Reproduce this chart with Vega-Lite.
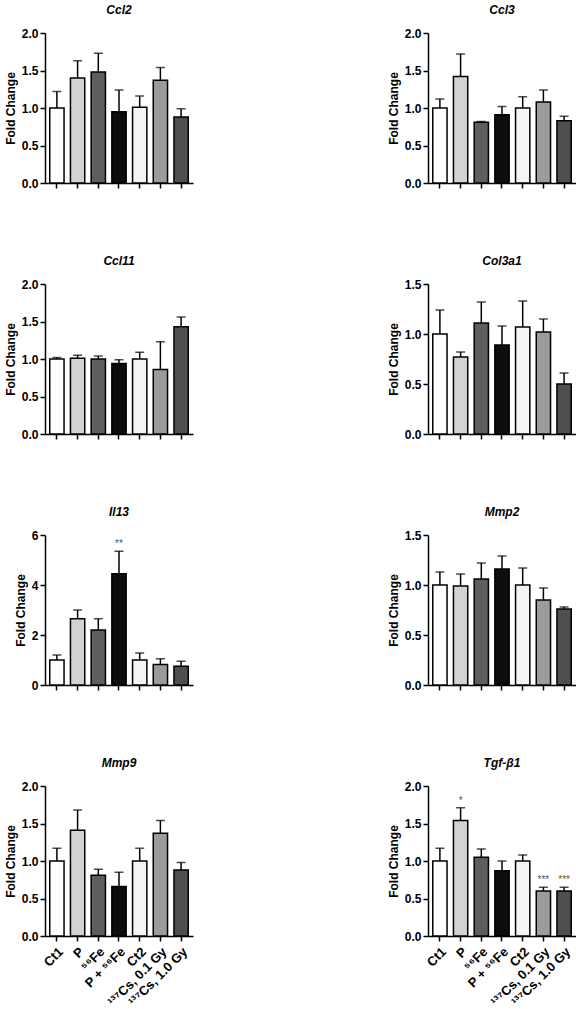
{
  "$schema": "https://vega.github.io/schema/vega-lite/v6.json",
  "padding": {"left": 4, "top": 4, "right": 2, "bottom": 2},
  "background": "white",
  "datasets": {
    "expr": [
      {"gene": "Ccl2", "group": "Ct1", "mean": 1.0, "upper": 1.22},
      {"gene": "Ccl2", "group": "P", "mean": 1.40, "upper": 1.63},
      {"gene": "Ccl2", "group": "⁵⁶Fe", "mean": 1.48, "upper": 1.73},
      {"gene": "Ccl2", "group": "P + ⁵⁶Fe", "mean": 0.95, "upper": 1.24},
      {"gene": "Ccl2", "group": "Ct2", "mean": 1.01, "upper": 1.16},
      {"gene": "Ccl2", "group": "¹³⁷Cs, 0.1 Gy", "mean": 1.37, "upper": 1.54},
      {"gene": "Ccl2", "group": "¹³⁷Cs, 1.0 Gy", "mean": 0.88, "upper": 0.99},
      {"gene": "Ccl3", "group": "Ct1", "mean": 1.0, "upper": 1.12},
      {"gene": "Ccl3", "group": "P", "mean": 1.42, "upper": 1.72},
      {"gene": "Ccl3", "group": "⁵⁶Fe", "mean": 0.81, "upper": 0.82},
      {"gene": "Ccl3", "group": "P + ⁵⁶Fe", "mean": 0.91, "upper": 1.02},
      {"gene": "Ccl3", "group": "Ct2", "mean": 1.0, "upper": 1.15},
      {"gene": "Ccl3", "group": "¹³⁷Cs, 0.1 Gy", "mean": 1.08, "upper": 1.24},
      {"gene": "Ccl3", "group": "¹³⁷Cs, 1.0 Gy", "mean": 0.83, "upper": 0.89},
      {"gene": "Ccl11", "group": "Ct1", "mean": 1.0, "upper": 1.02},
      {"gene": "Ccl11", "group": "P", "mean": 1.01, "upper": 1.05},
      {"gene": "Ccl11", "group": "⁵⁶Fe", "mean": 1.0, "upper": 1.04},
      {"gene": "Ccl11", "group": "P + ⁵⁶Fe", "mean": 0.94, "upper": 0.99},
      {"gene": "Ccl11", "group": "Ct2", "mean": 1.0, "upper": 1.09},
      {"gene": "Ccl11", "group": "¹³⁷Cs, 0.1 Gy", "mean": 0.86, "upper": 1.23},
      {"gene": "Ccl11", "group": "¹³⁷Cs, 1.0 Gy", "mean": 1.43, "upper": 1.56},
      {"gene": "Col3a1", "group": "Ct1", "mean": 1.0, "upper": 1.24},
      {"gene": "Col3a1", "group": "P", "mean": 0.77, "upper": 0.82},
      {"gene": "Col3a1", "group": "⁵⁶Fe", "mean": 1.11, "upper": 1.32},
      {"gene": "Col3a1", "group": "P + ⁵⁶Fe", "mean": 0.89, "upper": 1.08},
      {"gene": "Col3a1", "group": "Ct2", "mean": 1.07, "upper": 1.33},
      {"gene": "Col3a1", "group": "¹³⁷Cs, 0.1 Gy", "mean": 1.02, "upper": 1.15},
      {"gene": "Col3a1", "group": "¹³⁷Cs, 1.0 Gy", "mean": 0.50, "upper": 0.61},
      {"gene": "Il13", "group": "Ct1", "mean": 1.0, "upper": 1.2},
      {"gene": "Il13", "group": "P", "mean": 2.65, "upper": 3.0},
      {"gene": "Il13", "group": "⁵⁶Fe", "mean": 2.2, "upper": 2.65},
      {"gene": "Il13", "group": "P + ⁵⁶Fe", "mean": 4.45, "upper": 5.35, "sig": "**"},
      {"gene": "Il13", "group": "Ct2", "mean": 1.0, "upper": 1.28},
      {"gene": "Il13", "group": "¹³⁷Cs, 0.1 Gy", "mean": 0.82, "upper": 1.05},
      {"gene": "Il13", "group": "¹³⁷Cs, 1.0 Gy", "mean": 0.75, "upper": 0.95},
      {"gene": "Mmp2", "group": "Ct1", "mean": 1.0, "upper": 1.13},
      {"gene": "Mmp2", "group": "P", "mean": 0.99, "upper": 1.11},
      {"gene": "Mmp2", "group": "⁵⁶Fe", "mean": 1.06, "upper": 1.22},
      {"gene": "Mmp2", "group": "P + ⁵⁶Fe", "mean": 1.16, "upper": 1.29},
      {"gene": "Mmp2", "group": "Ct2", "mean": 1.0, "upper": 1.17},
      {"gene": "Mmp2", "group": "¹³⁷Cs, 0.1 Gy", "mean": 0.85, "upper": 0.97},
      {"gene": "Mmp2", "group": "¹³⁷Cs, 1.0 Gy", "mean": 0.76, "upper": 0.78},
      {"gene": "Mmp9", "group": "Ct1", "mean": 1.0, "upper": 1.17},
      {"gene": "Mmp9", "group": "P", "mean": 1.41, "upper": 1.68},
      {"gene": "Mmp9", "group": "⁵⁶Fe", "mean": 0.81, "upper": 0.89},
      {"gene": "Mmp9", "group": "P + ⁵⁶Fe", "mean": 0.66, "upper": 0.85},
      {"gene": "Mmp9", "group": "Ct2", "mean": 1.0, "upper": 1.17},
      {"gene": "Mmp9", "group": "¹³⁷Cs, 0.1 Gy", "mean": 1.37, "upper": 1.54},
      {"gene": "Mmp9", "group": "¹³⁷Cs, 1.0 Gy", "mean": 0.88, "upper": 0.98},
      {"gene": "Tgf-β1", "group": "Ct1", "mean": 1.0, "upper": 1.17},
      {"gene": "Tgf-β1", "group": "P", "mean": 1.54, "upper": 1.71, "sig": "*"},
      {"gene": "Tgf-β1", "group": "⁵⁶Fe", "mean": 1.05, "upper": 1.16},
      {"gene": "Tgf-β1", "group": "P + ⁵⁶Fe", "mean": 0.87, "upper": 1.0},
      {"gene": "Tgf-β1", "group": "Ct2", "mean": 1.0, "upper": 1.08},
      {"gene": "Tgf-β1", "group": "¹³⁷Cs, 0.1 Gy", "mean": 0.60, "upper": 0.65, "sig": "***"},
      {"gene": "Tgf-β1", "group": "¹³⁷Cs, 1.0 Gy", "mean": 0.60, "upper": 0.65, "sig": "***"}
    ]
  },
  "data": {"name": "expr"},
  "columns": 2,
  "spacing": {"row": 66, "column": 194},
  "concat": [
    {
      "title": "Ccl2", "width": 148, "height": 150,
      "transform": [{"filter": "datum.gene === 'Ccl2'"}],
      "encoding": {"x": {"field": "group", "type": "nominal", "sort": ["Ct1", "P", "⁵⁶Fe", "P + ⁵⁶Fe", "Ct2", "¹³⁷Cs, 0.1 Gy", "¹³⁷Cs, 1.0 Gy"], "scale": {"paddingInner": 0.31, "paddingOuter": 0.23}, "axis": {"labels": false, "title": null}},
        "y": {"field": "mean", "type": "quantitative", "scale": {"domain": [0, 2]}, "axis": {"title": "Fold Change", "values": [0, 0.5, 1, 1.5, 2], "format": ".1f", "labelOverlap": false}}},
      "layer": [
        {"mark": {"type": "bar"}, "encoding": {"fill": {"field": "group", "type": "nominal", "scale": {"domain": ["Ct1", "P", "⁵⁶Fe", "P + ⁵⁶Fe", "Ct2", "¹³⁷Cs, 0.1 Gy", "¹³⁷Cs, 1.0 Gy"], "range": ["#ffffff", "#d2d2d2", "#5e5e5e", "#0d0d0d", "#f4f4f4", "#9b9b9b", "#4f4f4f"]}, "legend": null}}},
        {"mark": {"type": "rule", "strokeWidth": 1.5, "color": "black"}, "encoding": {"y2": {"field": "upper"}}},
        {"mark": {"type": "tick", "size": 9, "thickness": 1.5, "color": "black"}, "encoding": {"y": {"field": "upper", "type": "quantitative", "axis": {"title": "Fold Change", "values": [0, 0.5, 1, 1.5, 2], "format": ".1f", "labelOverlap": false}}}}
      ]
    },
    {
      "title": "Ccl3", "width": 148, "height": 150,
      "transform": [{"filter": "datum.gene === 'Ccl3'"}],
      "encoding": {"x": {"field": "group", "type": "nominal", "sort": ["Ct1", "P", "⁵⁶Fe", "P + ⁵⁶Fe", "Ct2", "¹³⁷Cs, 0.1 Gy", "¹³⁷Cs, 1.0 Gy"], "scale": {"paddingInner": 0.31, "paddingOuter": 0.23}, "axis": {"labels": false, "title": null}},
        "y": {"field": "mean", "type": "quantitative", "scale": {"domain": [0, 2]}, "axis": {"title": "Fold Change", "values": [0, 0.5, 1, 1.5, 2], "format": ".1f", "labelOverlap": false}}},
      "layer": [
        {"mark": {"type": "bar"}, "encoding": {"fill": {"field": "group", "type": "nominal", "scale": {"domain": ["Ct1", "P", "⁵⁶Fe", "P + ⁵⁶Fe", "Ct2", "¹³⁷Cs, 0.1 Gy", "¹³⁷Cs, 1.0 Gy"], "range": ["#ffffff", "#d2d2d2", "#5e5e5e", "#0d0d0d", "#f4f4f4", "#9b9b9b", "#4f4f4f"]}, "legend": null}}},
        {"mark": {"type": "rule", "strokeWidth": 1.5, "color": "black"}, "encoding": {"y2": {"field": "upper"}}},
        {"mark": {"type": "tick", "size": 9, "thickness": 1.5, "color": "black"}, "encoding": {"y": {"field": "upper", "type": "quantitative", "axis": {"title": "Fold Change", "values": [0, 0.5, 1, 1.5, 2], "format": ".1f", "labelOverlap": false}}}}
      ]
    },
    {
      "title": "Ccl11", "width": 148, "height": 150,
      "transform": [{"filter": "datum.gene === 'Ccl11'"}],
      "encoding": {"x": {"field": "group", "type": "nominal", "sort": ["Ct1", "P", "⁵⁶Fe", "P + ⁵⁶Fe", "Ct2", "¹³⁷Cs, 0.1 Gy", "¹³⁷Cs, 1.0 Gy"], "scale": {"paddingInner": 0.31, "paddingOuter": 0.23}, "axis": {"labels": false, "title": null}},
        "y": {"field": "mean", "type": "quantitative", "scale": {"domain": [0, 2]}, "axis": {"title": "Fold Change", "values": [0, 0.5, 1, 1.5, 2], "format": ".1f", "labelOverlap": false}}},
      "layer": [
        {"mark": {"type": "bar"}, "encoding": {"fill": {"field": "group", "type": "nominal", "scale": {"domain": ["Ct1", "P", "⁵⁶Fe", "P + ⁵⁶Fe", "Ct2", "¹³⁷Cs, 0.1 Gy", "¹³⁷Cs, 1.0 Gy"], "range": ["#ffffff", "#d2d2d2", "#5e5e5e", "#0d0d0d", "#f4f4f4", "#9b9b9b", "#4f4f4f"]}, "legend": null}}},
        {"mark": {"type": "rule", "strokeWidth": 1.5, "color": "black"}, "encoding": {"y2": {"field": "upper"}}},
        {"mark": {"type": "tick", "size": 9, "thickness": 1.5, "color": "black"}, "encoding": {"y": {"field": "upper", "type": "quantitative", "axis": {"title": "Fold Change", "values": [0, 0.5, 1, 1.5, 2], "format": ".1f", "labelOverlap": false}}}}
      ]
    },
    {
      "title": "Col3a1", "width": 148, "height": 150,
      "transform": [{"filter": "datum.gene === 'Col3a1'"}],
      "encoding": {"x": {"field": "group", "type": "nominal", "sort": ["Ct1", "P", "⁵⁶Fe", "P + ⁵⁶Fe", "Ct2", "¹³⁷Cs, 0.1 Gy", "¹³⁷Cs, 1.0 Gy"], "scale": {"paddingInner": 0.31, "paddingOuter": 0.23}, "axis": {"labels": false, "title": null}},
        "y": {"field": "mean", "type": "quantitative", "scale": {"domain": [0, 1.5]}, "axis": {"title": "Fold Change", "values": [0, 0.5, 1, 1.5], "format": ".1f", "labelOverlap": false}}},
      "layer": [
        {"mark": {"type": "bar"}, "encoding": {"fill": {"field": "group", "type": "nominal", "scale": {"domain": ["Ct1", "P", "⁵⁶Fe", "P + ⁵⁶Fe", "Ct2", "¹³⁷Cs, 0.1 Gy", "¹³⁷Cs, 1.0 Gy"], "range": ["#ffffff", "#d2d2d2", "#5e5e5e", "#0d0d0d", "#f4f4f4", "#9b9b9b", "#4f4f4f"]}, "legend": null}}},
        {"mark": {"type": "rule", "strokeWidth": 1.5, "color": "black"}, "encoding": {"y2": {"field": "upper"}}},
        {"mark": {"type": "tick", "size": 9, "thickness": 1.5, "color": "black"}, "encoding": {"y": {"field": "upper", "type": "quantitative", "axis": {"title": "Fold Change", "values": [0, 0.5, 1, 1.5], "format": ".1f", "labelOverlap": false}}}}
      ]
    },
    {
      "title": "Il13", "width": 148, "height": 150,
      "transform": [{"filter": "datum.gene === 'Il13'"}],
      "encoding": {"x": {"field": "group", "type": "nominal", "sort": ["Ct1", "P", "⁵⁶Fe", "P + ⁵⁶Fe", "Ct2", "¹³⁷Cs, 0.1 Gy", "¹³⁷Cs, 1.0 Gy"], "scale": {"paddingInner": 0.31, "paddingOuter": 0.23}, "axis": {"labels": false, "title": null}},
        "y": {"field": "mean", "type": "quantitative", "scale": {"domain": [0, 6]}, "axis": {"title": "Fold Change", "values": [0, 2, 4, 6], "format": "d", "labelOverlap": false}}},
      "layer": [
        {"mark": {"type": "bar"}, "encoding": {"fill": {"field": "group", "type": "nominal", "scale": {"domain": ["Ct1", "P", "⁵⁶Fe", "P + ⁵⁶Fe", "Ct2", "¹³⁷Cs, 0.1 Gy", "¹³⁷Cs, 1.0 Gy"], "range": ["#ffffff", "#d2d2d2", "#5e5e5e", "#0d0d0d", "#f4f4f4", "#9b9b9b", "#4f4f4f"]}, "legend": null}}},
        {"mark": {"type": "rule", "strokeWidth": 1.5, "color": "black"}, "encoding": {"y2": {"field": "upper"}}},
        {"mark": {"type": "tick", "size": 9, "thickness": 1.5, "color": "black"}, "encoding": {"y": {"field": "upper", "type": "quantitative", "axis": {"title": "Fold Change", "values": [0, 2, 4, 6], "format": "d", "labelOverlap": false}}}},
        {"transform": [{"filter": "datum.sig"}], "mark": {"type": "text", "baseline": "bottom", "dy": -2, "fontSize": 10, "color": "#555555"}, "encoding": {"y": {"field": "upper", "type": "quantitative", "axis": {"title": "Fold Change", "values": [0, 2, 4, 6], "format": "d", "labelOverlap": false}}, "text": {"field": "sig"}}}
      ]
    },
    {
      "title": "Mmp2", "width": 148, "height": 150,
      "transform": [{"filter": "datum.gene === 'Mmp2'"}],
      "encoding": {"x": {"field": "group", "type": "nominal", "sort": ["Ct1", "P", "⁵⁶Fe", "P + ⁵⁶Fe", "Ct2", "¹³⁷Cs, 0.1 Gy", "¹³⁷Cs, 1.0 Gy"], "scale": {"paddingInner": 0.31, "paddingOuter": 0.23}, "axis": {"labels": false, "title": null}},
        "y": {"field": "mean", "type": "quantitative", "scale": {"domain": [0, 1.5]}, "axis": {"title": "Fold Change", "values": [0, 0.5, 1, 1.5], "format": ".1f", "labelOverlap": false}}},
      "layer": [
        {"mark": {"type": "bar"}, "encoding": {"fill": {"field": "group", "type": "nominal", "scale": {"domain": ["Ct1", "P", "⁵⁶Fe", "P + ⁵⁶Fe", "Ct2", "¹³⁷Cs, 0.1 Gy", "¹³⁷Cs, 1.0 Gy"], "range": ["#ffffff", "#d2d2d2", "#5e5e5e", "#0d0d0d", "#f4f4f4", "#9b9b9b", "#4f4f4f"]}, "legend": null}}},
        {"mark": {"type": "rule", "strokeWidth": 1.5, "color": "black"}, "encoding": {"y2": {"field": "upper"}}},
        {"mark": {"type": "tick", "size": 9, "thickness": 1.5, "color": "black"}, "encoding": {"y": {"field": "upper", "type": "quantitative", "axis": {"title": "Fold Change", "values": [0, 0.5, 1, 1.5], "format": ".1f", "labelOverlap": false}}}}
      ]
    },
    {
      "title": "Mmp9", "width": 148, "height": 150,
      "transform": [{"filter": "datum.gene === 'Mmp9'"}],
      "encoding": {"x": {"field": "group", "type": "nominal", "sort": ["Ct1", "P", "⁵⁶Fe", "P + ⁵⁶Fe", "Ct2", "¹³⁷Cs, 0.1 Gy", "¹³⁷Cs, 1.0 Gy"], "scale": {"paddingInner": 0.31, "paddingOuter": 0.23}, "axis": {"title": null, "labelAngle": -45, "labelPadding": 4, "labelFontSize": 13}},
        "y": {"field": "mean", "type": "quantitative", "scale": {"domain": [0, 2]}, "axis": {"title": "Fold Change", "values": [0, 0.5, 1, 1.5, 2], "format": ".1f", "labelOverlap": false}}},
      "layer": [
        {"mark": {"type": "bar"}, "encoding": {"fill": {"field": "group", "type": "nominal", "scale": {"domain": ["Ct1", "P", "⁵⁶Fe", "P + ⁵⁶Fe", "Ct2", "¹³⁷Cs, 0.1 Gy", "¹³⁷Cs, 1.0 Gy"], "range": ["#ffffff", "#d2d2d2", "#5e5e5e", "#0d0d0d", "#f4f4f4", "#9b9b9b", "#4f4f4f"]}, "legend": null}}},
        {"mark": {"type": "rule", "strokeWidth": 1.5, "color": "black"}, "encoding": {"y2": {"field": "upper"}}},
        {"mark": {"type": "tick", "size": 9, "thickness": 1.5, "color": "black"}, "encoding": {"y": {"field": "upper", "type": "quantitative", "axis": {"title": "Fold Change", "values": [0, 0.5, 1, 1.5, 2], "format": ".1f", "labelOverlap": false}}}}
      ]
    },
    {
      "title": "Tgf-β1", "width": 148, "height": 150,
      "transform": [{"filter": "datum.gene === 'Tgf-β1'"}],
      "encoding": {"x": {"field": "group", "type": "nominal", "sort": ["Ct1", "P", "⁵⁶Fe", "P + ⁵⁶Fe", "Ct2", "¹³⁷Cs, 0.1 Gy", "¹³⁷Cs, 1.0 Gy"], "scale": {"paddingInner": 0.31, "paddingOuter": 0.23}, "axis": {"title": null, "labelAngle": -45, "labelPadding": 4, "labelFontSize": 13}},
        "y": {"field": "mean", "type": "quantitative", "scale": {"domain": [0, 2]}, "axis": {"title": "Fold Change", "values": [0, 0.5, 1, 1.5, 2], "format": ".1f", "labelOverlap": false}}},
      "layer": [
        {"mark": {"type": "bar"}, "encoding": {"fill": {"field": "group", "type": "nominal", "scale": {"domain": ["Ct1", "P", "⁵⁶Fe", "P + ⁵⁶Fe", "Ct2", "¹³⁷Cs, 0.1 Gy", "¹³⁷Cs, 1.0 Gy"], "range": ["#ffffff", "#d2d2d2", "#5e5e5e", "#0d0d0d", "#f4f4f4", "#9b9b9b", "#4f4f4f"]}, "legend": null}}},
        {"mark": {"type": "rule", "strokeWidth": 1.5, "color": "black"}, "encoding": {"y2": {"field": "upper"}}},
        {"mark": {"type": "tick", "size": 9, "thickness": 1.5, "color": "black"}, "encoding": {"y": {"field": "upper", "type": "quantitative", "axis": {"title": "Fold Change", "values": [0, 0.5, 1, 1.5, 2], "format": ".1f", "labelOverlap": false}}}},
        {"transform": [{"filter": "datum.sig"}], "mark": {"type": "text", "baseline": "bottom", "dy": -2, "fontSize": 10, "color": "#555555"}, "encoding": {"y": {"field": "upper", "type": "quantitative", "axis": {"title": "Fold Change", "values": [0, 0.5, 1, 1.5, 2], "format": ".1f", "labelOverlap": false}}, "text": {"field": "sig"}}}
      ]
    }
  ],
  "config": {
    "font": "Liberation Sans",
    "view": {"stroke": null},
    "axis": {"domainColor": "black", "domainWidth": 1.5, "tickColor": "black", "tickWidth": 1.5, "tickSize": 5, "labelFont": "Liberation Sans", "labelFontWeight": "bold", "labelFontSize": 12, "labelColor": "black", "labelPadding": 2, "labelOverlap": false, "titleFont": "Liberation Sans", "titleFontSize": 12, "titleFontWeight": "bold", "titleColor": "black", "titlePadding": 4, "grid": false},
    "axisY": {"labelOverlap": false},
    "title": {"font": "Liberation Sans", "fontSize": 12, "fontStyle": "italic", "fontWeight": "bold", "anchor": "middle", "offset": 10, "color": "black"},
    "bar": {"stroke": "black", "strokeWidth": 1.5}
  }
}
